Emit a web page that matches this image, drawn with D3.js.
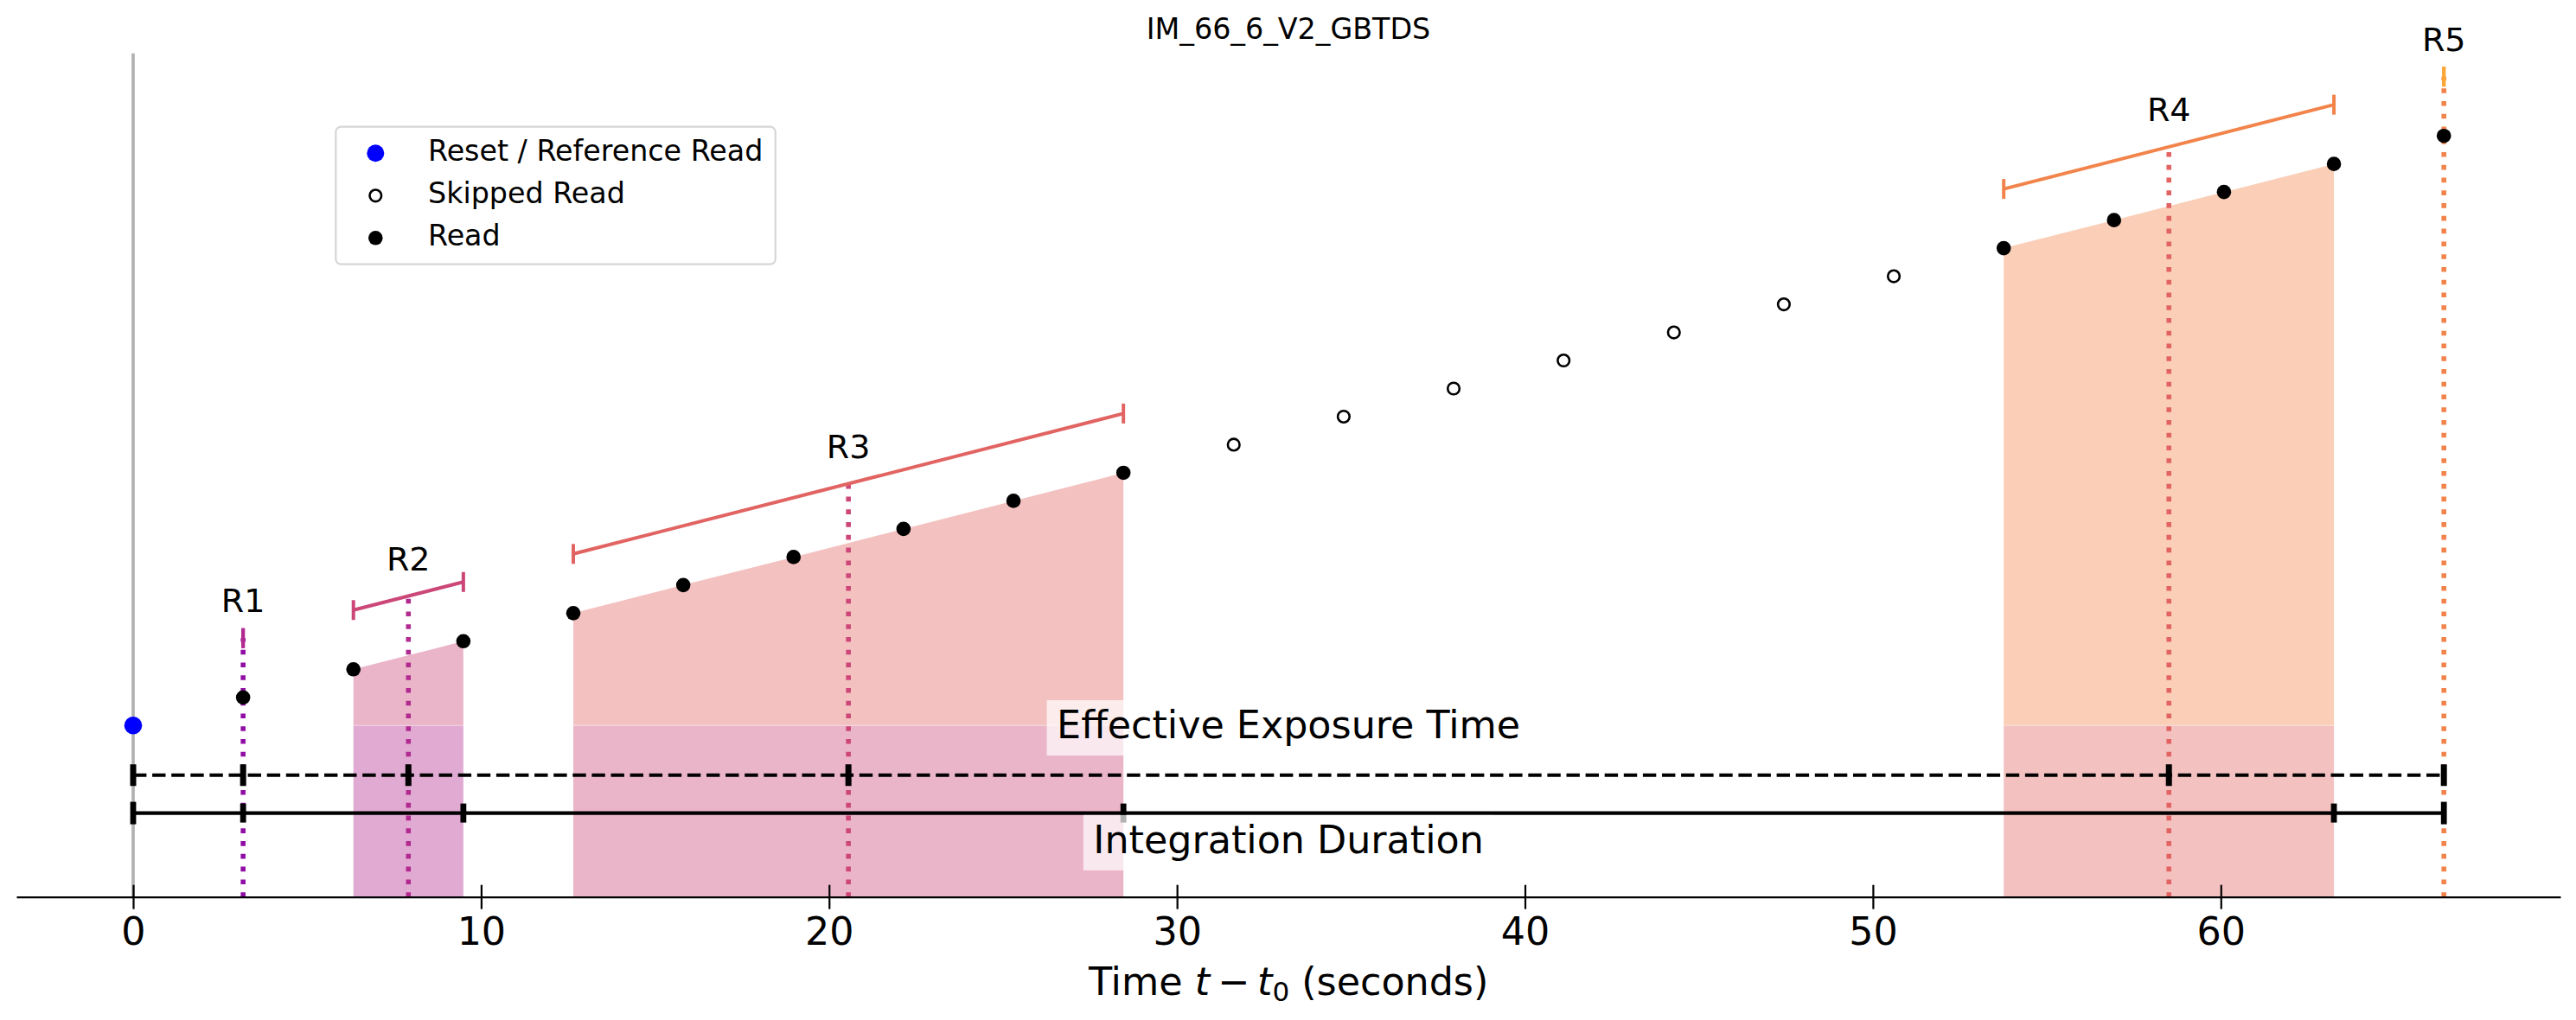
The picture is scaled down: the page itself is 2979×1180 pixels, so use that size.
<!DOCTYPE html>
<html>
<head>
<meta charset="utf-8">
<script src="https://cdn.jsdelivr.net/npm/d3@7"></script>
<style>
  body { margin: 0; background: #fff; }
  svg { display: block; font-family: "DejaVu Sans", sans-serif; }
</style>
</head>
<body>
<div id="chart"></div>
<script>
// read times (s) and accumulated signal (arbitrary units)
const readTimes = [0, 3.16, 6.33, 9.49, 12.65, 15.81, 18.98, 22.14, 25.30, 28.46, 31.63,
                   34.79, 37.95, 41.11, 44.28, 47.44, 50.60, 53.76, 56.93, 60.09, 63.25, 66.41];
const readSignal = [0, 10, 20, 30, 40, 50, 60, 70, 80, 90, 100,
                    110, 120, 130, 140, 150, 160, 170, 180, 190, 200, 210];
const skippedReads = [10, 11, 12, 13, 14, 15, 16];
const resultantNames = ["R1", "R2", "R3", "R4", "R5"];
const resultantReads = [[1], [2, 3], [4, 5, 6, 7, 8, 9], [17, 18, 19, 20], [21]];
const dottedColors = ["#8f0da4", "#b12a90", "#cc4778", "#e16462", "#f2844b"];
const bracketColors = ["#b12a90", "#cc4778", "#e16462", "#f2844b", "#fca636"];
const xTicks = [0, 10, 20, 30, 40, 50, 60];
const legendLabels = ["Reset / Reference Read", "Skipped Read", "Read"];
const titleText = "IM_66_6_V2_GBTDS";
const effLabel = "Effective Exposure Time";
const intLabel = "Integration Duration";

// levels in signal units
const bracketOffset = 21.1;
const effLevel = -17.7;
const intLevel = -31.2;

const W = 2979, H = 1180;

const svg = d3.select("#chart").append("svg")
    .attr("width", W)
    .attr("height", H);

// scales
const x = d3.scaleLinear().domain([-3.355, 69.76]).range([19, 2961]);
const y = d3.scaleLinear().domain([-61.1, 239.4]).range([1037.7, 61.7]);
const yBottom = y.domain()[0];
const resetLevel = readSignal[0];

// shaded resultant areas
resultantReads.forEach((idx, i) => {
    if (idx.length < 2) return;
    const t0 = readTimes[idx[0]], t1 = readTimes[idx[idx.length - 1]];
    svg.append("rect")
        .attr("x", x(t0))
        .attr("width", x(t1) - x(t0))
        .attr("y", y(resetLevel))
        .attr("height", y(yBottom) - y(resetLevel))
        .attr("fill", dottedColors[i])
        .attr("fill-opacity", 0.4);

    const area = d3.area()
        .x(k => x(readTimes[k]))
        .y0(y(resetLevel))
        .y1(k => y(readSignal[k]));
    svg.append("path")
        .datum(idx)
        .attr("d", area)
        .attr("fill", bracketColors[i])
        .attr("fill-opacity", 0.4);

    // faint seam between the two polygons
    svg.append("line")
        .attr("x1", x(t0)).attr("x2", x(t1))
        .attr("y1", y(resetLevel)).attr("y2", y(resetLevel))
        .attr("stroke", "#fff")
        .attr("stroke-opacity", 0.45)
        .attr("stroke-width", 1.2);
});

// reset marker line at t = 0
svg.append("line")
    .attr("x1", x(0)).attr("x2", x(0))
    .attr("y1", y.range()[1]).attr("y2", y.range()[0])
    .attr("stroke", "#b2b2b2")
    .attr("stroke-width", 3.7);

// dotted lines at resultant mean times
resultantReads.forEach((idx, i) => {
    const tm = d3.mean(idx, k => readTimes[k]);
    const vm = d3.mean(idx, k => readSignal[k]);
    svg.append("line")
        .attr("x1", x(tm)).attr("x2", x(tm))
        .attr("y1", y(yBottom)).attr("y2", y(vm + bracketOffset))
        .attr("stroke", dottedColors[i])
        .attr("stroke-width", 5.56)
        .attr("stroke-dasharray", "5.56 9.2");
});

// brackets over each resultant
resultantReads.forEach((idx, i) => {
    const a = idx[0], b = idx[idx.length - 1];
    const g = svg.append("g").attr("stroke", bracketColors[i]).attr("stroke-width", 4);
    g.append("line")
        .attr("x1", x(readTimes[a])).attr("y1", y(readSignal[a] + bracketOffset))
        .attr("x2", x(readTimes[b])).attr("y2", y(readSignal[b] + bracketOffset));
    [a, b].forEach(k => {
        g.append("line")
            .attr("x1", x(readTimes[k])).attr("x2", x(readTimes[k]))
            .attr("y1", y(readSignal[k] + bracketOffset) - 11.5)
            .attr("y2", y(readSignal[k] + bracketOffset) + 11.5);
    });

    const tm = d3.mean(idx, k => readTimes[k]);
    const vm = d3.mean(idx, k => readSignal[k]);
    svg.append("text")
        .attr("x", x(tm))
        .attr("y", y(vm + bracketOffset) - 30)
        .attr("text-anchor", "middle")
        .style("font-size", "38px")
        .text(resultantNames[i]);
});

// effective exposure (dashed) and integration duration (solid)
const tEnd = readTimes[readTimes.length - 1];
const meanTimes = [0].concat(resultantReads.map(idx => d3.mean(idx, k => readTimes[k])));
const endTimes = [0].concat(resultantReads.map(idx => readTimes[idx[idx.length - 1]]));

svg.append("line")
    .attr("x1", x(0)).attr("x2", x(tEnd))
    .attr("y1", y(effLevel)).attr("y2", y(effLevel))
    .attr("stroke", "#000")
    .attr("stroke-width", 4.2)
    .attr("stroke-dasharray", "15.4 6.7");
svg.selectAll(".effcap")
    .data(meanTimes)
    .enter().append("rect")
    .attr("class", "effcap")
    .attr("x", d => x(d) - 3.5)
    .attr("y", y(effLevel) - 12.5)
    .attr("width", 7)
    .attr("height", 25)
    .attr("fill", "#000");

svg.append("line")
    .attr("x1", x(0)).attr("x2", x(tEnd))
    .attr("y1", y(intLevel)).attr("y2", y(intLevel))
    .attr("stroke", "#000")
    .attr("stroke-width", 4.2);
svg.selectAll(".intcap")
    .data(endTimes)
    .enter().append("rect")
    .attr("class", "intcap")
    .attr("x", d => x(d) - 3.4)
    .attr("y", (d, i) => y(intLevel) - ((i === 0 || i === endTimes.length - 1) ? 13 : 11))
    .attr("width", 6.8)
    .attr("height", (d, i) => (i === 0 || i === endTimes.length - 1) ? 26 : 22)
    .attr("fill", "#000");

// labels with translucent white boxes
function boxedLabel(txt, baseline) {
    const g = svg.append("g");
    const box = g.append("rect");
    const t = g.append("text")
        .attr("x", x(tEnd / 2))
        .attr("y", baseline)
        .attr("text-anchor", "middle")
        .style("font-size", "44.4px")
        .text(txt);
    const w = t.node().getComputedTextLength();
    box.attr("x", x(tEnd / 2) - w / 2 - 11.5)
        .attr("width", w + 23)
        .attr("y", baseline - 44)
        .attr("height", 64)
        .attr("fill", "#fff")
        .attr("fill-opacity", 0.7);
}
boxedLabel(effLabel, y(effLevel) - 42.7);
boxedLabel(intLabel, y(intLevel) + 46.3);

// read points
const readIdx = d3.range(1, readTimes.length).filter(k => !skippedReads.includes(k));
svg.selectAll(".read")
    .data(readIdx)
    .enter().append("circle")
    .attr("class", "read")
    .attr("cx", k => x(readTimes[k]))
    .attr("cy", k => y(readSignal[k]))
    .attr("r", 8.3)
    .attr("fill", "#000");
svg.selectAll(".skip")
    .data(skippedReads)
    .enter().append("circle")
    .attr("class", "skip")
    .attr("cx", k => x(readTimes[k]))
    .attr("cy", k => y(readSignal[k]))
    .attr("r", 6.8)
    .attr("fill", "#fff")
    .attr("stroke", "#000")
    .attr("stroke-width", 2.6);
svg.append("circle")
    .attr("cx", x(readTimes[0]))
    .attr("cy", y(readSignal[0]))
    .attr("r", 10.3)
    .attr("fill", "#0000ff");

// x axis
const xAxis = svg.append("g")
    .attr("transform", `translate(0,${y.range()[0]})`)
    .call(d3.axisBottom(x)
        .tickValues(xTicks)
        .tickSizeInner(14)
        .tickSizeOuter(0)
        .tickFormat(d3.format("d")));
xAxis.select(".domain").attr("stroke-width", 2.2);
xAxis.selectAll(".tick line").attr("y1", -14).attr("stroke-width", 2.2);
xAxis.selectAll(".tick text")
    .attr("y", 55.5)
    .attr("dy", null)
    .attr("fill", "#000")
    .style("font-size", "44.4px")
    .style("font-family", "DejaVu Sans");

// axis label
const xl = svg.append("text")
    .attr("x", x(tEnd / 2))
    .attr("y", 1151)
    .attr("text-anchor", "middle")
    .style("font-size", "44.4px");
xl.append("tspan").text("Time ");
xl.append("tspan").style("font-style", "italic").text("t");
xl.append("tspan").text("\u2009\u2212\u2009");
xl.append("tspan").style("font-style", "italic").text("t");
xl.append("tspan").attr("dy", 7).style("font-size", "31px").text("0");
xl.append("tspan").attr("dy", -7).text(" (seconds)");

// title
svg.append("text")
    .attr("x", (x.range()[0] + x.range()[1]) / 2)
    .attr("y", 45)
    .attr("text-anchor", "middle")
    .style("font-size", "33.3px")
    .text(titleText);

// legend
const legend = svg.append("g");
legend.append("rect")
    .attr("x", 388.3).attr("y", 146.7)
    .attr("width", 508.4).attr("height", 159)
    .attr("rx", 6)
    .attr("fill", "#fff").attr("fill-opacity", 0.8)
    .attr("stroke", "#d6d6d6").attr("stroke-width", 2.2);
const legendRows = legend.selectAll(".row")
    .data(legendLabels)
    .enter().append("g")
    .attr("class", "row")
    .attr("transform", (d, i) => `translate(0,${177.3 + i * 49})`);
legendRows.append("circle")
    .attr("cx", 434.3)
    .attr("r", (d, i) => [10, 6.8, 8.3][i])
    .attr("fill", (d, i) => ["#0000ff", "#fff", "#000"][i])
    .attr("stroke", (d, i) => i === 1 ? "#000" : "none")
    .attr("stroke-width", 2.6);
legendRows.append("text")
    .attr("x", 495)
    .attr("y", 8.4)
    .style("font-size", "33.3px")
    .text(d => d);
</script>
</body>
</html>
